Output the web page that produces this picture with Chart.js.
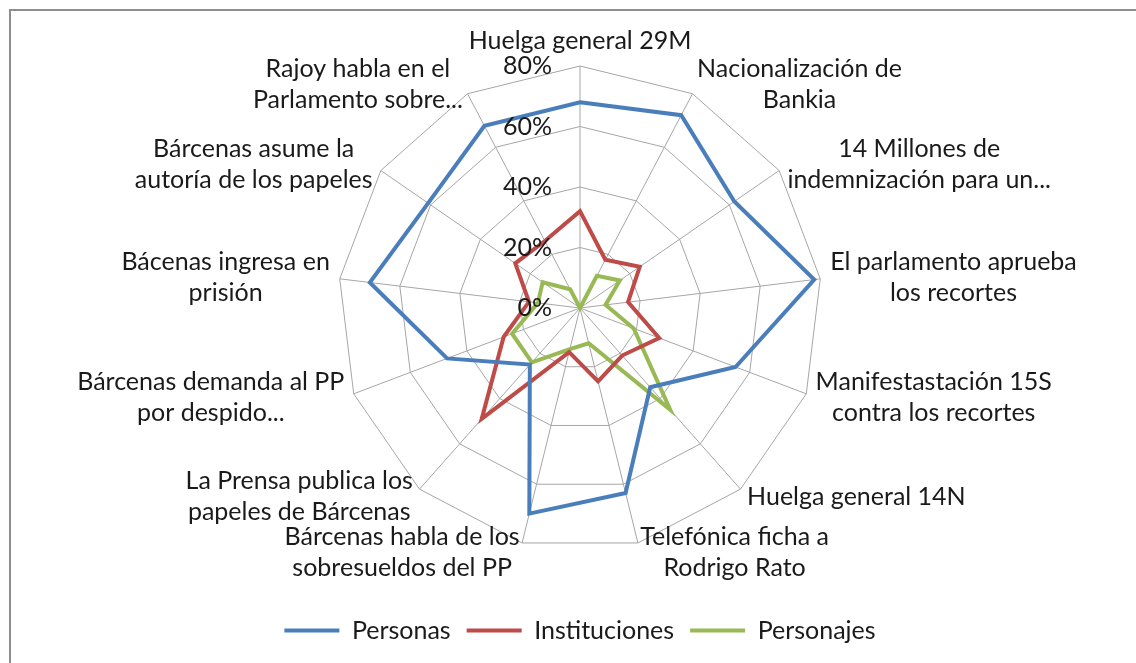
<!DOCTYPE html>
<html>
<head>
<meta charset="utf-8">
<script src="https://cdn.jsdelivr.net/npm/chart.js@4"></script>
<style>
body{margin:0;background:#fff;}
#wrap{position:relative;width:1136px;height:663px;overflow:hidden;}
#frame{position:absolute;left:9px;top:9px;width:1200px;height:700px;border-left:2px solid #8e8e8e;border-top:2px solid #8e8e8e;}
canvas{position:absolute;left:0;top:0;}
</style>
</head>
<body>
<div id="wrap">
<div id="frame"></div>
<canvas id="radarChart" width="1136" height="663"></canvas>
</div>
<script>
let categories = [
"Huelga general 29M",
["Nacionalización de","Bankia"],
["14 Millones de","indemnización para un..."],
["El parlamento aprueba","los recortes"],
["Manifestastación 15S","contra los recortes"],
"Huelga general 14N",
["Telefónica ficha a","Rodrigo Rato"],
["Bárcenas habla de los","sobresueldos del PP"],
["La Prensa publica los","papeles de Bárcenas"],
["Bárcenas demanda al PP","por despido..."],
["Bácenas ingresa en","prisión"],
["Bárcenas asume la","autoría de los papeles"],
["Rajoy habla en el","Parlamento sobre..."]
];

let personas = [68, 72, 62, 78, 55, 35, 63, 70, 25, 47, 70, 61, 68];
let instituciones = [32, 18, 24, 16, 28, 21, 25, 15, 49, 27, 17, 26, 25];
let personajes = [0, 12, 16, 8.5, 19, 45, 12, 14, 24, 24, 14, 15, 7];

let tickValues = [0, 20, 40, 60, 80];
let tickLabels = ["0%", "20%", "40%", "60%", "80%"];

const FONT = "Lato";
const FSIZE = 25;
const LINE = 31;
const LABEL_GAP = 10;
const TEXT = "#1a1a1a";

/* Excel-like text: category labels hang off the spoke ends, ticks left of the axis */
const textPlugin = {
id: "textPlugin",
afterDatasetsDraw(chart){
const s = chart.scales.r;
const ctx = chart.ctx;
ctx.save();
ctx.font = FSIZE + "px " + FONT;
ctx.fillStyle = TEXT;
ctx.textBaseline = "middle";
ctx.textAlign = "center";

categories.forEach((lab, i) => {
let lines = Array.isArray(lab) ? lab : [lab];
let w = Math.max(...lines.map(l => ctx.measureText(l).width));
let h = lines.length * LINE;
let p = s.getPointPosition(i, s.drawingArea + LABEL_GAP);
let dx = p.x - s.xCenter;
let dy = p.y - s.yCenter;
let cx = p.x, cy = p.y;
if(Math.abs(dx) < 1){
cy = p.y + Math.sign(dy) * h / 2;
} else {
cx = p.x + Math.sign(dx) * w / 2;
}
lines.forEach((ln, k) => {
ctx.fillText(ln, cx, cy - h / 2 + LINE * (k + 0.5));
});
});

ctx.textAlign = "right";
tickValues.forEach((v, i) => {
let y = s.yCenter - s.getDistanceFromCenterForValue(v);
ctx.fillText(tickLabels[i], s.xCenter - 28, y);
});
ctx.restore();
}
};

function series(label, data, color){
return {
label: label,
data: data,
borderColor: color,
pointBorderColor: color,
pointBackgroundColor: color,
pointBorderWidth: 4
};
}

let ctx = document.getElementById("radarChart").getContext("2d");

new Chart(ctx, {
type: "radar",
data: {
labels: categories,
datasets: [
series("Personas", personas, "#4a7ebb"),
series("Instituciones", instituciones, "#be4b48"),
series("Personajes", personajes, "#98b954")
]
},
options: {
responsive: false,
animation: false,
layout: {padding: {top: 66, bottom: 10, left: 24, right: 0}},
elements: {
line: {borderWidth: 4, fill: false, tension: 0, backgroundColor: "transparent"},
point: {radius: 0, hoverRadius: 0}
},
scales: {
r: {
min: 0,
max: 80,
ticks: {stepSize: 20, display: false},
grid: {color: "#a6a6a6", lineWidth: 1},
angleLines: {color: "#a6a6a6", lineWidth: 1},
pointLabels: {display: false}
}
},
plugins: {
legend: {
position: "bottom",
title: {display: true, text: "", font: {size: 12}, padding: {top: 0, bottom: 37}},
labels: {
font: {family: FONT, size: FSIZE},
color: TEXT,
usePointStyle: true,
pointStyle: "line",
pointStyleWidth: 55,
padding: 16
}
},
tooltip: {enabled: false}
}
},
plugins: [textPlugin]
});
</script>
</body>
</html>
